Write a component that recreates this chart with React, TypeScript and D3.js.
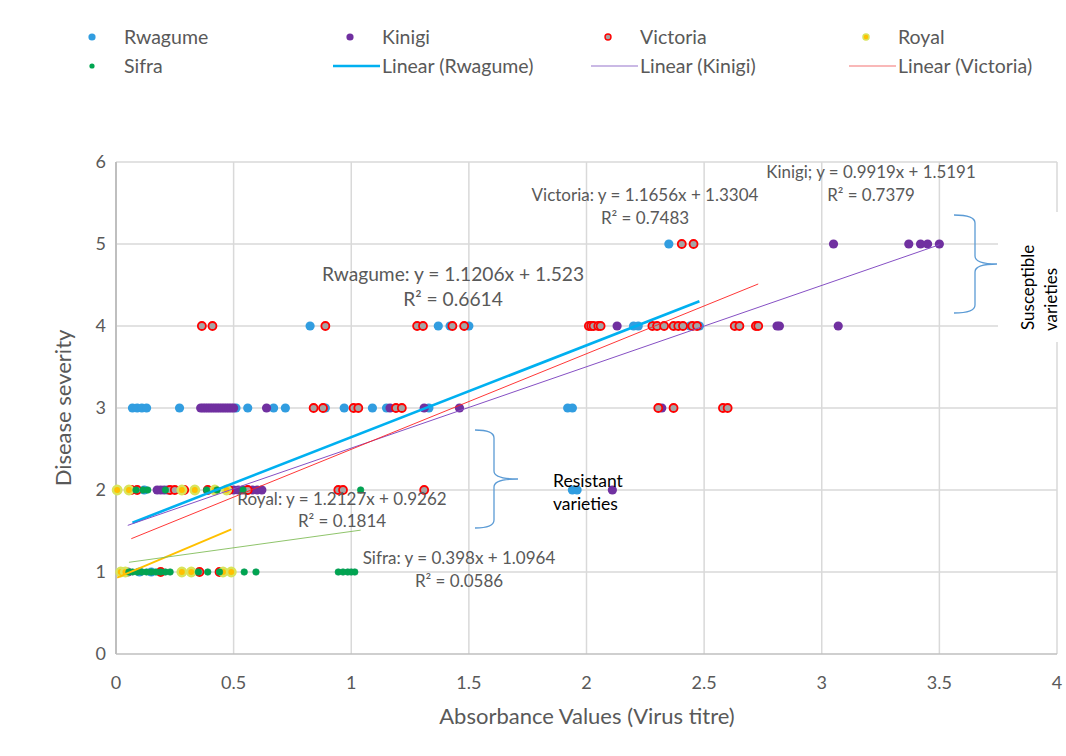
import React, { useEffect, useRef } from 'react';
import * as d3 from 'd3';

// [absorbance, severity] per variety
const rwagume: [number, number][] = [
  [2.35, 5],
  [0.825, 4], [1.37, 4], [1.42, 4], [1.5, 4], [2.2, 4], [2.22, 4], [2.44, 4], [2.48, 4],
  [0.07, 3], [0.09, 3], [0.11, 3], [0.13, 3], [0.27, 3], [0.51, 3], [0.56, 3], [0.67, 3], [0.72, 3],
  [0.89, 3], [0.97, 3], [1.09, 3], [1.15, 3], [1.33, 3], [1.92, 3], [1.94, 3],
  [0.12, 2], [1.94, 2], [1.96, 2],
  [0.1, 1], [0.15, 1],
];
const kinigi: [number, number][] = [
  [3.05, 5], [3.37, 5], [3.42, 5], [3.45, 5], [3.5, 5],
  [2.13, 4], [2.81, 4], [2.82, 4], [3.07, 4],
  [0.36, 3], [0.37, 3], [0.38, 3], [0.39, 3], [0.4, 3], [0.41, 3], [0.42, 3], [0.43, 3], [0.44, 3],
  [0.45, 3], [0.46, 3], [0.47, 3], [0.48, 3], [0.49, 3], [0.5, 3], [0.64, 3], [1.165, 3], [1.31, 3],
  [1.46, 3], [2.32, 3],
  [0.175, 2], [0.19, 2], [0.205, 2], [0.22, 2], [0.5, 2], [0.52, 2], [0.54, 2], [0.56, 2], [0.58, 2],
  [0.6, 2], [0.62, 2], [2.11, 2],
  [0.05, 1],
];
const victoria: [number, number][] = [
  [2.405, 5], [2.455, 5],
  [0.365, 4], [0.41, 4], [0.89, 4], [1.28, 4], [1.305, 4], [1.43, 4], [1.48, 4], [2.01, 4], [2.02, 4],
  [2.03, 4], [2.05, 4], [2.06, 4], [2.28, 4], [2.3, 4], [2.33, 4], [2.37, 4], [2.39, 4], [2.41, 4],
  [2.45, 4], [2.47, 4], [2.63, 4], [2.65, 4], [2.72, 4], [2.73, 4],
  [0.84, 3], [0.88, 3], [1.01, 3], [1.03, 3], [1.19, 3], [1.215, 3], [2.305, 3], [2.37, 3], [2.58, 3], [2.6, 3],
  [0.065, 2], [0.09, 2], [0.23, 2], [0.25, 2], [0.29, 2], [0.39, 2], [0.48, 2], [0.56, 2], [0.945, 2],
  [0.965, 2], [1.31, 2],
  [0.19, 1], [0.355, 1], [0.44, 1],
];
const royal: [number, number][] = [
  [0.005, 2], [0.055, 2], [0.28, 2], [0.335, 2], [0.42, 2], [0.47, 2],
  [0.02, 1], [0.04, 1], [0.28, 1], [0.32, 1], [0.455, 1], [0.49, 1],
];
const sifra: [number, number][] = [
  [0.085, 2], [0.115, 2], [0.135, 2], [0.21, 2], [0.385, 2], [0.43, 2], [0.54, 2], [1.04, 2],
  [0.055, 1], [0.07, 1], [0.09, 1], [0.11, 1], [0.13, 1], [0.15, 1], [0.17, 1], [0.19, 1], [0.21, 1],
  [0.23, 1], [0.35, 1], [0.39, 1], [0.44, 1], [0.545, 1], [0.595, 1], [0.945, 1], [0.965, 1],
  [0.985, 1], [1.0, 1], [1.015, 1],
];

const varieties = ['Rwagume', 'Kinigi', 'Victoria', 'Royal', 'Sifra'];
const slopes = [1.1206, 0.9919, 1.1656, 1.2127, 0.398];
const intercepts = [1.523, 1.5191, 1.3304, 0.9262, 1.0964];
const rSquared = ['0.6614', '0.7379', '0.7483', '0.1814', '0.0586'];

const xTicks = [0, 0.5, 1, 1.5, 2, 2.5, 3, 3.5, 4];
const yTicks = [0, 1, 2, 3, 4, 5, 6];

const FONT = 'Lato, "Open Sans", sans-serif';
const GREY = '#595959';

const App: React.FC = () => {
  const ref = useRef<SVGSVGElement | null>(null);

  useEffect(() => {
    if (!ref.current) return;
    const svg = d3.select(ref.current);
    svg.selectAll('*').remove();

    const x = d3.scaleLinear().domain([0, 4]).range([116, 1057]);
    const y = d3.scaleLinear().domain([0, 6]).range([654, 162]);

    svg.append('rect').attr('width', 1066).attr('height', 756).attr('fill', '#fff');

    // gridlines
    svg.append('g').selectAll('line.gy').data(yTicks.slice(1)).enter().append('line')
      .attr('x1', x(0)).attr('x2', x(4)).attr('y1', d => y(d)).attr('y2', d => y(d))
      .attr('stroke', '#D9D9D9').attr('stroke-width', 1.5);
    svg.append('g').selectAll('line.gx').data(xTicks.slice(1)).enter().append('line')
      .attr('y1', y(0)).attr('y2', y(6)).attr('x1', d => x(d)).attr('x2', d => x(d))
      .attr('stroke', '#D9D9D9').attr('stroke-width', 1.5);
    // axis lines
    svg.append('line').attr('x1', x(0)).attr('x2', x(4)).attr('y1', y(0)).attr('y2', y(0))
      .attr('stroke', '#BFBFBF').attr('stroke-width', 1.5);
    svg.append('line').attr('x1', x(0)).attr('x2', x(0)).attr('y1', y(0)).attr('y2', y(6))
      .attr('stroke', '#BFBFBF').attr('stroke-width', 2);

    // tick labels
    svg.append('g').selectAll('text').data(xTicks).enter().append('text')
      .attr('x', d => x(d)).attr('y', 689).attr('text-anchor', 'middle')
      .style('font', `18px ${FONT}`).attr('fill', GREY).text(d => String(d));
    svg.append('g').selectAll('text').data(yTicks).enter().append('text')
      .attr('x', 106).attr('y', d => y(d) + 6).attr('text-anchor', 'end')
      .style('font', `18px ${FONT}`).attr('fill', GREY).text(d => String(d));

    // axis titles
    svg.append('text').attr('x', 587).attr('y', 724).attr('text-anchor', 'middle')
      .style('font', `22px ${FONT}`).attr('fill', GREY).text('Absorbance Values (Virus titre)');
    svg.append('text').attr('transform', `translate(71,${y(3)}) rotate(-90)`).attr('text-anchor', 'middle')
      .style('font', `22px ${FONT}`).attr('fill', GREY).text('Disease severity');

    // points
    const pts = svg.append('g');
    const dots = (data: [number, number][], r: number, fill: string, stroke: string, sw: number) => {
      pts.append('g').selectAll('circle').data(data).enter().append('circle')
        .attr('cx', d => x(d[0])).attr('cy', d => y(d[1])).attr('r', r)
        .attr('fill', fill).attr('stroke', stroke).attr('stroke-width', sw);
    };
    dots(rwagume, 4.6, '#319DE0', 'none', 0);
    dots(kinigi, 4.6, '#7030A0', 'none', 0);
    dots(victoria, 4, '#A5A5A5', '#FF0000', 1.8);
    dots(royal, 4.2, '#FFC000', '#D9E45C', 2.5);
    dots(sifra, 3.3, '#00A550', '#0C9A5A', 0.6);

    // trendlines over each series' x range
    const seriesData = [rwagume, kinigi, victoria, royal, sifra];
    const lineColors = ['#00B0F0', '#8650C4', '#FF2020', '#FFC000', '#82BD5A'];
    const lineWidths = [2.6, 1, 0.9, 2, 0.9];
    seriesData.forEach((data, i) => {
      const [x0, x1] = d3.extent(data, d => d[0]) as [number, number];
      svg.append('line')
        .attr('x1', x(x0)).attr('y1', y(slopes[i] * x0 + intercepts[i]))
        .attr('x2', x(x1)).attr('y2', y(slopes[i] * x1 + intercepts[i]))
        .attr('stroke', lineColors[i]).attr('stroke-width', lineWidths[i]);
    });

    // equation labels
    const eq = (i: number, sep: string) =>
      `${varieties[i]}${sep} y = ${slopes[i]}x + ${intercepts[i]}`;
    const labels = [
      { i: 0, cx: 453, by: 281, size: 19.2, lh: 25 },
      { i: 1, cx: 871, by: 178, size: 16.9, lh: 23 },
      { i: 2, cx: 645, by: 201, size: 17, lh: 23 },
      { i: 3, cx: 342, by: 505, size: 17, lh: 22 },
      { i: 4, cx: 459, by: 564, size: 17, lh: 23 },
    ];
    labels.forEach(l => {
      const g = svg.append('g').style('font', `${l.size}px ${FONT}`).attr('fill', GREY)
        .attr('text-anchor', 'middle');
      g.append('text').attr('x', l.cx).attr('y', l.by).text(eq(l.i, l.i === 1 ? ';' : ':'));
      g.append('text').attr('x', l.cx).attr('y', l.by + l.lh).text(`R² = ${rSquared[l.i]}`);
    });

    // braces
    const brace = (left: number, spine: number, tip: number, top: number, bottom: number) => {
      const mid = (top + bottom) / 2;
      const r = 8;
      return `M${left},${top} Q${spine},${top} ${spine},${top + r} L${spine},${mid - r}` +
        ` Q${spine},${mid} ${tip},${mid} Q${spine},${mid} ${spine},${mid + r}` +
        ` L${spine},${bottom - r} Q${spine},${bottom} ${left},${bottom}`;
    };
    svg.append('path').attr('d', brace(475, 494, 518, 430, 528))
      .attr('fill', 'none').attr('stroke', '#5B9BD5').attr('stroke-width', 1.3);
    svg.append('text').attr('x', 553).attr('y', 487).style('font', `17.5px ${FONT}`).attr('fill', '#000')
      .text('Resistant');
    svg.append('text').attr('x', 553).attr('y', 510).style('font', `17.5px ${FONT}`).attr('fill', '#000')
      .text('varieties');

    svg.append('rect').attr('x', 998).attr('y', 212).attr('width', 68).attr('height', 130).attr('fill', '#fff');
    svg.append('path').attr('d', brace(954, 975, 997, 215, 313))
      .attr('fill', 'none').attr('stroke', '#5B9BD5').attr('stroke-width', 1.3);
    svg.append('text').attr('transform', 'translate(1034,330) rotate(-90)')
      .style('font', `17px ${FONT}`).attr('fill', '#000').text('Susceptible');
    svg.append('text').attr('transform', 'translate(1057,331) rotate(-90)')
      .style('font', `17px ${FONT}`).attr('fill', '#000').text('varieties');

    // legend
    const lg = svg.append('g').style('font', `19.5px ${FONT}`).attr('fill', GREY);
    const textX = [124, 382, 640, 898];
    const rows = [37, 66];
    const legendDots = [
      { name: 'Rwagume', col: 0, row: 0, fill: '#319DE0', stroke: 'none', r: 3.6, sw: 0 },
      { name: 'Kinigi', col: 1, row: 0, fill: '#7030A0', stroke: 'none', r: 3.6, sw: 0 },
      { name: 'Victoria', col: 2, row: 0, fill: '#A5A5A5', stroke: '#FF0000', r: 3, sw: 1.4 },
      { name: 'Royal', col: 3, row: 0, fill: '#FFC000', stroke: '#D9E45C', r: 3, sw: 1.5 },
      { name: 'Sifra', col: 0, row: 1, fill: '#00A550', stroke: 'none', r: 2.6, sw: 0 },
    ];
    legendDots.forEach(d => {
      lg.append('circle').attr('cx', textX[d.col] - 32).attr('cy', rows[d.row]).attr('r', d.r)
        .attr('fill', d.fill).attr('stroke', d.stroke).attr('stroke-width', d.sw);
      lg.append('text').attr('x', textX[d.col]).attr('y', rows[d.row] + 7).text(d.name);
    });
    const legendLines = [
      { name: 'Linear (Rwagume)', col: 1, color: '#00B0F0', w: 2.6 },
      { name: 'Linear (Kinigi)', col: 2, color: '#B9A2DC', w: 1.5 },
      { name: 'Linear (Victoria)', col: 3, color: '#F7A0A0', w: 1.5 },
    ];
    legendLines.forEach(d => {
      lg.append('line').attr('x1', textX[d.col] - 49).attr('x2', textX[d.col] - 2)
        .attr('y1', rows[1]).attr('y2', rows[1]).attr('stroke', d.color).attr('stroke-width', d.w);
      lg.append('text').attr('x', textX[d.col]).attr('y', rows[1] + 7).text(d.name);
    });
  }, []);

  return (
    <div style={{ position: 'absolute', left: 0, top: 0 }}>
      <svg ref={ref} width={1066} height={756} />
    </div>
  );
};

export default App;
